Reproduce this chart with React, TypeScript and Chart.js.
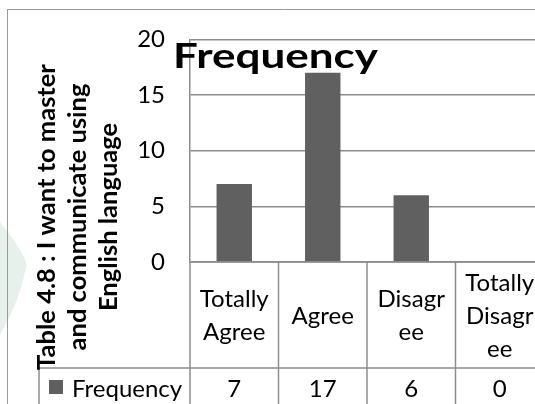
import React, { useEffect, useRef } from "react";
import { Chart, registerables } from "chart.js";

Chart.register(...registerables);

// ---- data ----
const categories = ["Totally Agree", "Agree", "Disagree", "Totally Disagree"];
const categoryLines = [["Totally", "Agree"], ["Agree"], ["Disagr", "ee"], ["Totally", "Disagr", "ee"]];
const seriesName = "Frequency";
const values = [7, 17, 6, 0];
const yMin = 0;
const yMax = 20;
const yStep = 5;
const chartTitle = "Frequency";
const yTitleLines = ["Table 4.8 : I want to master", "and communicate using", "English language"];

// ---- style ----
const FONT = "Lato, 'Open Sans', sans-serif";
const GRID = "#8c8c8c";
const BAR = "#606060";
const W = 560;
const H = 430;

function hline(ctx: CanvasRenderingContext2D, x1: number, x2: number, y: number) {
  ctx.beginPath();
  ctx.moveTo(x1, y);
  ctx.lineTo(x2, y);
  ctx.stroke();
}
function vline(ctx: CanvasRenderingContext2D, x: number, y1: number, y2: number) {
  ctx.beginPath();
  ctx.moveTo(x, y1);
  ctx.lineTo(x, y2);
  ctx.stroke();
}

const framePlugin = {
  id: "frame",
  beforeDraw(chart: any) {
    const ctx: CanvasRenderingContext2D = chart.ctx;
    ctx.save();
    // faint watermark at the left edge
    ctx.fillStyle = "rgba(200,224,212,0.45)";
    ctx.beginPath();
    ctx.moveTo(0, 222);
    ctx.quadraticCurveTo(30, 260, 26, 268);
    ctx.quadraticCurveTo(20, 300, 0, 335);
    ctx.closePath();
    ctx.fill();
    // outer chart border
    ctx.strokeStyle = "#9a9a9a";
    ctx.lineWidth = 1;
    hline(ctx, 7, W, 9.5);
    vline(ctx, 7.5, 9, H);
    ctx.restore();
  },
};

const tablePlugin = {
  id: "dataTable",
  afterDraw(chart: any) {
    const ctx: CanvasRenderingContext2D = chart.ctx;
    const a = chart.chartArea;
    const x = chart.scales.x;
    const n = categories.length;
    const colW = (a.right - a.left) / n;
    const top = a.bottom;
    const mid = top + 106;
    const bottom = mid + 44;
    const legendLeft = 39;

    ctx.save();
    ctx.strokeStyle = GRID;
    ctx.lineWidth = 1.5;
    hline(ctx, a.left, W, top);
    hline(ctx, legendLeft, W, mid);
    hline(ctx, legendLeft, W, bottom);
    for (let i = 0; i <= n; i++) {
      vline(ctx, a.left + i * colW, top, H);
    }
    vline(ctx, legendLeft, mid, H);

    // category labels
    const fs = 24;
    const capH = fs * 0.7165;
    ctx.font = `${fs}px ${FONT}`;
    ctx.fillStyle = "#000";
    ctx.textAlign = "center";
    ctx.textBaseline = "alphabetic";
    const rowC = top + 53;
    const lh = 33;
    categoryLines.forEach((lines, i) => {
      const cx = x.getPixelForValue(i);
      lines.forEach((t, j) => {
        const cy = rowC + (j - (lines.length - 1) / 2) * lh;
        ctx.fillText(t, cx, cy + capH / 2);
      });
    });
    // values row
    const valBase = mid + 29;
    values.forEach((v, i) => {
      ctx.fillText(String(v), x.getPixelForValue(i), valBase);
    });
    // legend cell
    ctx.fillStyle = BAR;
    ctx.fillRect(49, mid + 12, 14, 14);
    ctx.fillStyle = "#000";
    ctx.textAlign = "left";
    ctx.fillText(seriesName, 72, valBase);

    // y axis title (rotated)
    ctx.save();
    ctx.rotate(-Math.PI / 2);
    ctx.font = `bold 25.5px ${FONT}`;
    ctx.textAlign = "center";
    yTitleLines.forEach((t, i) => {
      ctx.fillText(t, -217, 55 + i * 31);
    });
    ctx.restore();

    // chart title, stretched to the reference width
    ctx.save();
    ctx.font = `bold 34px ${FONT}`;
    const mw = ctx.measureText(chartTitle).width;
    const targetW = 205;
    ctx.translate(275.5, 68);
    ctx.scale(targetW / mw, 1);
    ctx.textAlign = "center";
    ctx.fillStyle = "#000";
    ctx.fillText(chartTitle, 0, 0);
    ctx.restore();

    ctx.restore();
  },
};

export default function App() {
  const ref = useRef<HTMLCanvasElement | null>(null);
  useEffect(() => {
    if (!ref.current) return;
    const chart = new Chart(ref.current, {
      type: "bar",
      data: {
        labels: categories,
        datasets: [
          {
            label: seriesName,
            data: values,
            backgroundColor: BAR,
            borderWidth: 0,
            barPercentage: 0.4,
            categoryPercentage: 1,
          },
        ],
      },
      options: {
        responsive: false,
        animation: false,
        devicePixelRatio: 1,
        events: [],
        layout: { padding: { left: 0, top: 25, right: 16, bottom: 168 } },
        plugins: {
          legend: { display: false },
          tooltip: { enabled: false },
          title: { display: false },
        },
        scales: {
          x: { type: "category", display: false, offset: true },
          y: {
            min: yMin,
            max: yMax,
            afterFit: (s: any) => {
              s.width = 190;
            },
            ticks: {
              stepSize: yStep,
              padding: 25,
              color: "#000",
              font: { family: FONT, size: 24 },
            },
            grid: { color: GRID, lineWidth: 1.5, drawTicks: false, tickLength: 0 },
            border: { display: true, color: GRID, width: 1.5 },
          },
        },
      },
      plugins: [framePlugin, tablePlugin],
    });
    return () => chart.destroy();
  }, []);
  return (
    <div style={{ position: "fixed", left: 0, top: 0, width: 535, height: 404, overflow: "hidden", background: "#fff" }}>
      <canvas ref={ref} width={W} height={H} style={{ width: W, height: H, display: "block" }} />
    </div>
  );
}
